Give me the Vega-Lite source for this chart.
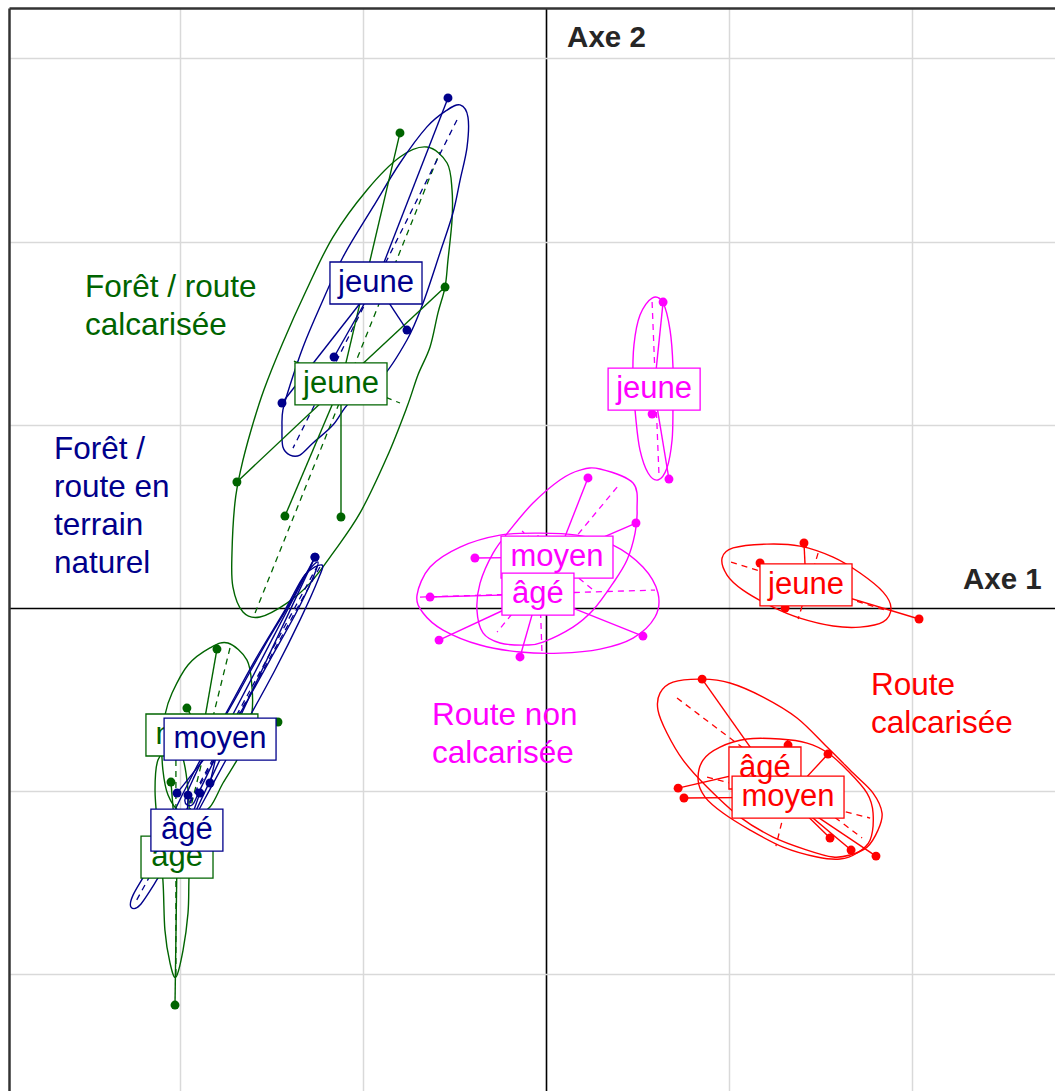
{
"$schema":"https://vega.github.io/schema/vega-lite/v6.json",
"width":1046,"height":1083,
"autosize":{"type":"none"},
"padding":{"left":9,"top":8,"right":0,"bottom":0},
"background":"white",
"config":{"view":{"stroke":null}},
"datasets":{
"ell":[
{"id":"Gj","g":"G","i":0,"x":-0.650,"y":2.516},{"id":"Gj","g":"G","i":1,"x":-0.540,"y":2.429},{"id":"Gj","g":"G","i":2,"x":-0.513,"y":2.282},{"id":"Gj","g":"G","i":3,"x":-0.513,"y":2.118},{"id":"Gj","g":"G","i":4,"x":-0.535,"y":1.900},{"id":"Gj","g":"G","i":5,"x":-0.551,"y":1.752},{"id":"Gj","g":"G","i":6,"x":-0.590,"y":1.610},{"id":"Gj","g":"G","i":7,"x":-0.633,"y":1.425},{"id":"Gj","g":"G","i":8,"x":-0.699,"y":1.272},{"id":"Gj","g":"G","i":9,"x":-0.759,"y":1.097},{"id":"Gj","g":"G","i":10,"x":-0.868,"y":0.824},{"id":"Gj","g":"G","i":11,"x":-1.015,"y":0.519},{"id":"Gj","g":"G","i":12,"x":-1.163,"y":0.300},{"id":"Gj","g":"G","i":13,"x":-1.288,"y":0.136},{"id":"Gj","g":"G","i":14,"x":-1.414,"y":0.027},{"id":"Gj","g":"G","i":15,"x":-1.561,"y":-0.049},{"id":"Gj","g":"G","i":16,"x":-1.654,"y":-0.022},{"id":"Gj","g":"G","i":17,"x":-1.709,"y":0.115},{"id":"Gj","g":"G","i":18,"x":-1.714,"y":0.300},{"id":"Gj","g":"G","i":19,"x":-1.698,"y":0.573},{"id":"Gj","g":"G","i":20,"x":-1.665,"y":0.760},{"id":"Gj","g":"G","i":21,"x":-1.610,"y":0.970},{"id":"Gj","g":"G","i":22,"x":-1.540,"y":1.190},{"id":"Gj","g":"G","i":23,"x":-1.440,"y":1.440},{"id":"Gj","g":"G","i":24,"x":-1.310,"y":1.730},{"id":"Gj","g":"G","i":25,"x":-1.163,"y":2.025},{"id":"Gj","g":"G","i":26,"x":-0.977,"y":2.282},{"id":"Gj","g":"G","i":27,"x":-0.797,"y":2.462},
{"id":"Gm","g":"G","i":0,"x":-1.736,"y":-0.191},{"id":"Gm","g":"G","i":1,"x":-1.632,"y":-0.284},{"id":"Gm","g":"G","i":2,"x":-1.605,"y":-0.431},{"id":"Gm","g":"G","i":3,"x":-1.605,"y":-0.573},{"id":"Gm","g":"G","i":4,"x":-1.638,"y":-0.721},{"id":"Gm","g":"G","i":5,"x":-1.687,"y":-0.830},{"id":"Gm","g":"G","i":6,"x":-1.763,"y":-0.955},{"id":"Gm","g":"G","i":7,"x":-1.834,"y":-1.086},{"id":"Gm","g":"G","i":8,"x":-1.916,"y":-1.130},{"id":"Gm","g":"G","i":9,"x":-1.998,"y":-1.114},{"id":"Gm","g":"G","i":10,"x":-2.063,"y":-1.021},{"id":"Gm","g":"G","i":11,"x":-2.091,"y":-0.884},{"id":"Gm","g":"G","i":12,"x":-2.096,"y":-0.721},{"id":"Gm","g":"G","i":13,"x":-2.080,"y":-0.584},{"id":"Gm","g":"G","i":14,"x":-2.041,"y":-0.464},{"id":"Gm","g":"G","i":15,"x":-1.954,"y":-0.311},{"id":"Gm","g":"G","i":16,"x":-1.834,"y":-0.218},
{"id":"Ga","g":"G","i":0,"x":-2.041,"y":-0.748},{"id":"Ga","g":"G","i":1,"x":-1.987,"y":-0.802},{"id":"Ga","g":"G","i":2,"x":-1.954,"y":-0.993},{"id":"Ga","g":"G","i":3,"x":-1.943,"y":-1.266},{"id":"Ga","g":"G","i":4,"x":-1.949,"y":-1.485},{"id":"Ga","g":"G","i":5,"x":-1.954,"y":-1.665},{"id":"Ga","g":"G","i":6,"x":-1.981,"y":-1.867},{"id":"Ga","g":"G","i":7,"x":-2.020,"y":-2.014},{"id":"Ga","g":"G","i":8,"x":-2.052,"y":-1.938},{"id":"Ga","g":"G","i":9,"x":-2.080,"y":-1.758},{"id":"Ga","g":"G","i":10,"x":-2.091,"y":-1.485},{"id":"Ga","g":"G","i":11,"x":-2.118,"y":-1.212},{"id":"Ga","g":"G","i":12,"x":-2.134,"y":-0.993},{"id":"Ga","g":"G","i":13,"x":-2.118,"y":-0.830},
{"id":"Nj","g":"N","i":0,"x":-0.469,"y":2.746},{"id":"Nj","g":"N","i":1,"x":-0.426,"y":2.680},{"id":"Nj","g":"N","i":2,"x":-0.431,"y":2.516},{"id":"Nj","g":"N","i":3,"x":-0.469,"y":2.336},{"id":"Nj","g":"N","i":4,"x":-0.508,"y":2.156},{"id":"Nj","g":"N","i":5,"x":-0.579,"y":1.938},{"id":"Nj","g":"N","i":6,"x":-0.671,"y":1.665},{"id":"Nj","g":"N","i":7,"x":-0.759,"y":1.463},{"id":"Nj","g":"N","i":8,"x":-0.906,"y":1.245},{"id":"Nj","g":"N","i":9,"x":-1.070,"y":1.124},{"id":"Nj","g":"N","i":10,"x":-1.163,"y":0.999},{"id":"Nj","g":"N","i":11,"x":-1.272,"y":0.901},{"id":"Nj","g":"N","i":12,"x":-1.343,"y":0.835},{"id":"Nj","g":"N","i":13,"x":-1.397,"y":0.835},{"id":"Nj","g":"N","i":14,"x":-1.436,"y":0.879},{"id":"Nj","g":"N","i":15,"x":-1.441,"y":0.988},{"id":"Nj","g":"N","i":16,"x":-1.436,"y":1.081},{"id":"Nj","g":"N","i":17,"x":-1.397,"y":1.217},{"id":"Nj","g":"N","i":18,"x":-1.326,"y":1.425},{"id":"Nj","g":"N","i":19,"x":-1.234,"y":1.643},{"id":"Nj","g":"N","i":20,"x":-1.108,"y":1.916},{"id":"Nj","g":"N","i":21,"x":-0.944,"y":2.189},{"id":"Nj","g":"N","i":22,"x":-0.797,"y":2.429},{"id":"Nj","g":"N","i":23,"x":-0.650,"y":2.626},{"id":"Nj","g":"N","i":24,"x":-0.540,"y":2.718},
{"id":"Nm","g":"N","i":0,"x":-1.245,"y":0.251},{"id":"Nm","g":"N","i":1,"x":-1.277,"y":0.153},{"id":"Nm","g":"N","i":2,"x":-1.370,"y":-0.038},{"id":"Nm","g":"N","i":3,"x":-1.507,"y":-0.284},{"id":"Nm","g":"N","i":4,"x":-1.643,"y":-0.529},{"id":"Nm","g":"N","i":5,"x":-1.769,"y":-0.748},{"id":"Nm","g":"N","i":6,"x":-1.889,"y":-0.993},{"id":"Nm","g":"N","i":7,"x":-1.932,"y":-1.075},{"id":"Nm","g":"N","i":8,"x":-1.971,"y":-1.048},{"id":"Nm","g":"N","i":9,"x":-1.916,"y":-0.912},{"id":"Nm","g":"N","i":10,"x":-1.807,"y":-0.693},{"id":"Nm","g":"N","i":11,"x":-1.670,"y":-0.448},{"id":"Nm","g":"N","i":12,"x":-1.534,"y":-0.202},{"id":"Nm","g":"N","i":13,"x":-1.397,"y":0.027},{"id":"Nm","g":"N","i":14,"x":-1.316,"y":0.180},
{"id":"Na","g":"N","i":0,"x":-1.223,"y":0.235},{"id":"Na","g":"N","i":1,"x":-1.245,"y":0.153},{"id":"Na","g":"N","i":2,"x":-1.343,"y":-0.066},{"id":"Na","g":"N","i":3,"x":-1.479,"y":-0.338},{"id":"Na","g":"N","i":4,"x":-1.643,"y":-0.639},{"id":"Na","g":"N","i":5,"x":-1.807,"y":-0.939},{"id":"Na","g":"N","i":6,"x":-1.971,"y":-1.239},{"id":"Na","g":"N","i":7,"x":-2.107,"y":-1.457},{"id":"Na","g":"N","i":8,"x":-2.216,"y":-1.621},{"id":"Na","g":"N","i":9,"x":-2.265,"y":-1.632},{"id":"Na","g":"N","i":10,"x":-2.254,"y":-1.567},{"id":"Na","g":"N","i":11,"x":-2.162,"y":-1.403},{"id":"Na","g":"N","i":12,"x":-2.052,"y":-1.157},{"id":"Na","g":"N","i":13,"x":-1.916,"y":-0.884},{"id":"Na","g":"N","i":14,"x":-1.752,"y":-0.584},{"id":"Na","g":"N","i":15,"x":-1.588,"y":-0.284},{"id":"Na","g":"N","i":16,"x":-1.425,"y":-0.011},{"id":"Na","g":"N","i":17,"x":-1.316,"y":0.180},
{"id":"Mj","g":"M","i":0,"x":0.579,"y":1.692},{"id":"Mj","g":"M","i":1,"x":0.639,"y":1.665},{"id":"Mj","g":"M","i":2,"x":0.677,"y":1.517},{"id":"Mj","g":"M","i":3,"x":0.693,"y":1.316},{"id":"Mj","g":"M","i":4,"x":0.693,"y":1.097},{"id":"Mj","g":"M","i":5,"x":0.688,"y":0.917},{"id":"Mj","g":"M","i":6,"x":0.660,"y":0.764},{"id":"Mj","g":"M","i":7,"x":0.611,"y":0.699},{"id":"Mj","g":"M","i":8,"x":0.557,"y":0.737},{"id":"Mj","g":"M","i":9,"x":0.513,"y":0.862},{"id":"Mj","g":"M","i":10,"x":0.491,"y":1.026},{"id":"Mj","g":"M","i":11,"x":0.475,"y":1.245},{"id":"Mj","g":"M","i":12,"x":0.480,"y":1.436},{"id":"Mj","g":"M","i":13,"x":0.513,"y":1.599},
{"id":"Mm","g":"M","i":0,"x":0.295,"y":0.759},{"id":"Mm","g":"M","i":1,"x":0.475,"y":0.682},{"id":"Mm","g":"M","i":2,"x":0.497,"y":0.535},{"id":"Mm","g":"M","i":3,"x":0.486,"y":0.409},{"id":"Mm","g":"M","i":4,"x":0.442,"y":0.262},{"id":"Mm","g":"M","i":5,"x":0.366,"y":0.136},{"id":"Mm","g":"M","i":6,"x":0.257,"y":-0.011},{"id":"Mm","g":"M","i":7,"x":0.147,"y":-0.104},{"id":"Mm","g":"M","i":8,"x":-0.016,"y":-0.186},{"id":"Mm","g":"M","i":9,"x":-0.104,"y":-0.202},{"id":"Mm","g":"M","i":10,"x":-0.251,"y":-0.191},{"id":"Mm","g":"M","i":11,"x":-0.344,"y":-0.136},{"id":"Mm","g":"M","i":12,"x":-0.377,"y":-0.011},{"id":"Mm","g":"M","i":13,"x":-0.360,"y":0.136},{"id":"Mm","g":"M","i":14,"x":-0.289,"y":0.300},{"id":"Mm","g":"M","i":15,"x":-0.197,"y":0.426},{"id":"Mm","g":"M","i":16,"x":-0.071,"y":0.573},{"id":"Mm","g":"M","i":17,"x":0.076,"y":0.699},{"id":"Mm","g":"M","i":18,"x":0.186,"y":0.753},
{"id":"Ma","g":"M","i":0,"x":-0.704,"y":0.071},{"id":"Ma","g":"M","i":1,"x":-0.633,"y":0.224},{"id":"Ma","g":"M","i":2,"x":-0.469,"y":0.333},{"id":"Ma","g":"M","i":3,"x":-0.251,"y":0.398},{"id":"Ma","g":"M","i":4,"x":-0.033,"y":0.409},{"id":"Ma","g":"M","i":5,"x":0.169,"y":0.398},{"id":"Ma","g":"M","i":6,"x":0.366,"y":0.344},{"id":"Ma","g":"M","i":7,"x":0.529,"y":0.224},{"id":"Ma","g":"M","i":8,"x":0.611,"y":0.082},{"id":"Ma","g":"M","i":9,"x":0.595,"y":-0.049},{"id":"Ma","g":"M","i":10,"x":0.475,"y":-0.164},{"id":"Ma","g":"M","i":11,"x":0.295,"y":-0.224},{"id":"Ma","g":"M","i":12,"x":0.076,"y":-0.246},{"id":"Ma","g":"M","i":13,"x":-0.142,"y":-0.240},{"id":"Ma","g":"M","i":14,"x":-0.360,"y":-0.202},{"id":"Ma","g":"M","i":15,"x":-0.562,"y":-0.120},{"id":"Ma","g":"M","i":16,"x":-0.671,"y":-0.027},
{"id":"Rj","g":"R","i":0,"x":0.961,"y":0.273},{"id":"Rj","g":"R","i":1,"x":1.021,"y":0.328},{"id":"Rj","g":"R","i":2,"x":1.206,"y":0.349},{"id":"Rj","g":"R","i":3,"x":1.386,"y":0.338},{"id":"Rj","g":"R","i":4,"x":1.567,"y":0.278},{"id":"Rj","g":"R","i":5,"x":1.714,"y":0.191},{"id":"Rj","g":"R","i":6,"x":1.840,"y":0.087},{"id":"Rj","g":"R","i":7,"x":1.883,"y":0.0},{"id":"Rj","g":"R","i":8,"x":1.840,"y":-0.076},{"id":"Rj","g":"R","i":9,"x":1.714,"y":-0.104},{"id":"Rj","g":"R","i":10,"x":1.567,"y":-0.098},{"id":"Rj","g":"R","i":11,"x":1.386,"y":-0.055},{"id":"Rj","g":"R","i":12,"x":1.239,"y":0.005},{"id":"Rj","g":"R","i":13,"x":1.075,"y":0.098},{"id":"Rj","g":"R","i":14,"x":0.988,"y":0.180},
{"id":"Ra","g":"R","i":0,"x":0.622,"y":-0.464},{"id":"Ra","g":"R","i":1,"x":0.693,"y":-0.404},{"id":"Ra","g":"R","i":2,"x":0.852,"y":-0.388},{"id":"Ra","g":"R","i":3,"x":1.004,"y":-0.409},{"id":"Ra","g":"R","i":4,"x":1.185,"y":-0.486},{"id":"Ra","g":"R","i":5,"x":1.370,"y":-0.600},{"id":"Ra","g":"R","i":6,"x":1.534,"y":-0.759},{"id":"Ra","g":"R","i":7,"x":1.676,"y":-0.901},{"id":"Ra","g":"R","i":8,"x":1.785,"y":-1.010},{"id":"Ra","g":"R","i":9,"x":1.834,"y":-1.119},{"id":"Ra","g":"R","i":10,"x":1.812,"y":-1.212},{"id":"Ra","g":"R","i":11,"x":1.752,"y":-1.305},{"id":"Ra","g":"R","i":12,"x":1.659,"y":-1.348},{"id":"Ra","g":"R","i":13,"x":1.567,"y":-1.359},{"id":"Ra","g":"R","i":14,"x":1.425,"y":-1.321},{"id":"Ra","g":"R","i":15,"x":1.239,"y":-1.250},{"id":"Ra","g":"R","i":16,"x":1.059,"y":-1.141},{"id":"Ra","g":"R","i":17,"x":0.879,"y":-0.977},{"id":"Ra","g":"R","i":18,"x":0.748,"y":-0.830},{"id":"Ra","g":"R","i":19,"x":0.660,"y":-0.682},{"id":"Ra","g":"R","i":20,"x":0.611,"y":-0.557},
{"id":"Rm","g":"R","i":0,"x":0.830,"y":-0.939},{"id":"Rm","g":"R","i":1,"x":0.857,"y":-0.830},{"id":"Rm","g":"R","i":2,"x":0.950,"y":-0.759},{"id":"Rm","g":"R","i":3,"x":1.097,"y":-0.715},{"id":"Rm","g":"R","i":4,"x":1.277,"y":-0.715},{"id":"Rm","g":"R","i":5,"x":1.425,"y":-0.737},{"id":"Rm","g":"R","i":6,"x":1.539,"y":-0.791},{"id":"Rm","g":"R","i":7,"x":1.643,"y":-0.884},{"id":"Rm","g":"R","i":8,"x":1.752,"y":-1.010},{"id":"Rm","g":"R","i":9,"x":1.785,"y":-1.119},{"id":"Rm","g":"R","i":10,"x":1.769,"y":-1.266},{"id":"Rm","g":"R","i":11,"x":1.698,"y":-1.337},{"id":"Rm","g":"R","i":12,"x":1.605,"y":-1.370},{"id":"Rm","g":"R","i":13,"x":1.479,"y":-1.359},{"id":"Rm","g":"R","i":14,"x":1.294,"y":-1.305},{"id":"Rm","g":"R","i":15,"x":1.114,"y":-1.212},{"id":"Rm","g":"R","i":16,"x":0.966,"y":-1.119},{"id":"Rm","g":"R","i":17,"x":0.868,"y":-1.032}
],
"ax":[
{"g":"G","x":-1.588,"y":-0.027,"x2":-0.579,"y2":2.489},{"g":"G","x":-1.376,"y":1.348,"x2":-0.797,"y2":1.119},
{"g":"G","x":-1.725,"y":-0.218,"x2":-1.943,"y2":-1.103},
{"g":"G","x":-2.020,"y":-0.830,"x2":-2.020,"y2":-2.003},
{"g":"N","x":-0.486,"y":2.664,"x2":-1.381,"y2":0.873},
{"g":"N","x":-1.245,"y":0.235,"x2":-1.954,"y2":-1.075},
{"g":"N","x":-1.234,"y":0.224,"x2":-2.243,"y2":-1.610},
{"g":"M","x":0.579,"y":1.670,"x2":0.617,"y2":0.715},
{"g":"M","x":0.388,"y":0.660,"x2":-0.267,"y2":-0.131},{"g":"M","x":0.251,"y":0.104,"x2":-0.131,"y2":0.420},
{"g":"M","x":-0.688,"y":0.060,"x2":0.595,"y2":0.098},{"g":"M","x":-0.044,"y":0.398,"x2":-0.022,"y2":-0.246},
{"g":"R","x":1.010,"y":0.251,"x2":1.850,"y2":-0.011},{"g":"R","x":1.485,"y":0.300,"x2":1.376,"y2":-0.060},
{"g":"R","x":0.715,"y":-0.491,"x2":1.725,"y2":-1.255},{"g":"R","x":1.321,"y":-0.721,"x2":1.124,"y2":-1.026},
{"g":"R","x":0.879,"y":-0.923,"x2":1.769,"y2":-1.146},{"g":"R","x":1.386,"y":-0.764,"x2":1.255,"y2":-1.299}
],
"pts":[
{"g":"G","c":"jeune","x":-0.797,"y":2.593,"cx":-1.119,"cy":1.223},{"g":"G","c":"jeune","x":-0.551,"y":1.752,"cx":-1.119,"cy":1.223},{"g":"G","c":"jeune","x":-1.687,"y":0.688,"cx":-1.119,"cy":1.223},{"g":"G","c":"jeune","x":-1.425,"y":0.502,"cx":-1.119,"cy":1.223},{"g":"G","c":"jeune","x":-1.119,"y":0.497,"cx":-1.119,"cy":1.223},
{"g":"G","c":"moyen","x":-1.796,"y":-0.224,"cx":-1.878,"cy":-0.693},{"g":"G","c":"moyen","x":-1.463,"y":-0.622,"cx":-1.878,"cy":-0.693},{"g":"G","c":"moyen","x":-1.960,"y":-0.546,"cx":-1.878,"cy":-0.693},
{"g":"G","c":"âgé","x":-2.025,"y":-2.167,"cx":-2.014,"cy":-1.359},{"g":"G","c":"âgé","x":-2.047,"y":-0.950,"cx":-2.014,"cy":-1.359},
{"g":"N","c":"jeune","x":-0.535,"y":2.784,"cx":-0.928,"cy":1.774},{"g":"N","c":"jeune","x":-0.759,"y":1.517,"cx":-0.928,"cy":1.774},{"g":"N","c":"jeune","x":-1.157,"y":1.370,"cx":-0.928,"cy":1.774},{"g":"N","c":"jeune","x":-1.441,"y":1.119,"cx":-0.928,"cy":1.774},
{"g":"N","c":"moyen","x":-1.261,"y":0.278,"cx":-1.779,"cy":-0.715},{"g":"N","c":"moyen","x":-1.834,"y":-0.955,"cx":-1.779,"cy":-0.715},{"g":"N","c":"moyen","x":-2.014,"y":-1.010,"cx":-1.779,"cy":-0.715},
{"g":"N","c":"âgé","x":-1.261,"y":0.278,"cx":-1.960,"cy":-1.212},{"g":"N","c":"âgé","x":-1.889,"y":-1.010,"cx":-1.960,"cy":-1.212},{"g":"N","c":"âgé","x":-1.954,"y":-1.021,"cx":-1.960,"cy":-1.212},
{"g":"M","c":"jeune","x":0.639,"y":1.670,"cx":0.590,"cy":1.195},{"g":"M","c":"jeune","x":0.579,"y":1.059,"cx":0.590,"cy":1.195},{"g":"M","c":"jeune","x":0.671,"y":0.704,"cx":0.590,"cy":1.195},
{"g":"M","c":"moyen","x":0.229,"y":0.710,"cx":0.060,"cy":0.278},{"g":"M","c":"moyen","x":0.491,"y":0.464,"cx":0.060,"cy":0.278},{"g":"M","c":"moyen","x":-0.388,"y":0.273,"cx":0.060,"cy":0.278},
{"g":"M","c":"âgé","x":-0.633,"y":0.060,"cx":-0.044,"cy":0.076},{"g":"M","c":"âgé","x":-0.584,"y":-0.175,"cx":-0.044,"cy":0.076},{"g":"M","c":"âgé","x":-0.142,"y":-0.267,"cx":-0.044,"cy":0.076},{"g":"M","c":"âgé","x":0.529,"y":-0.153,"cx":-0.044,"cy":0.076},
{"g":"R","c":"jeune","x":1.408,"y":0.355,"cx":1.419,"cy":0.126},{"g":"R","c":"jeune","x":1.168,"y":0.246,"cx":1.419,"cy":0.126},{"g":"R","c":"jeune","x":1.305,"y":0.0,"cx":1.419,"cy":0.126},{"g":"R","c":"jeune","x":2.036,"y":-0.060,"cx":1.419,"cy":0.126},
{"g":"R","c":"âgé","x":0.852,"y":-0.388,"cx":1.195,"cy":-0.873},{"g":"R","c":"âgé","x":0.721,"y":-0.983,"cx":1.195,"cy":-0.873},{"g":"R","c":"âgé","x":1.321,"y":-0.748,"cx":1.195,"cy":-0.873},
{"g":"R","c":"moyen","x":1.539,"y":-0.797,"cx":1.321,"cy":-1.032},{"g":"R","c":"moyen","x":0.753,"y":-1.037,"cx":1.321,"cy":-1.032},{"g":"R","c":"moyen","x":1.550,"y":-1.255,"cx":1.321,"cy":-1.032},{"g":"R","c":"moyen","x":1.665,"y":-1.321,"cx":1.321,"cy":-1.032},{"g":"R","c":"moyen","x":1.801,"y":-1.354,"cx":1.321,"cy":-1.032}
],
"lab":[
{"g":"G","c":"jeune","x":-1.119,"y":1.223},{"g":"G","c":"moyen","x":-1.878,"y":-0.693},{"g":"G","c":"âgé","x":-2.014,"y":-1.359},
{"g":"N","c":"jeune","x":-0.928,"y":1.774},{"g":"N","c":"moyen","x":-1.779,"y":-0.715},{"g":"N","c":"âgé","x":-1.960,"y":-1.212},
{"g":"M","c":"jeune","x":0.590,"y":1.195},{"g":"M","c":"moyen","x":0.060,"y":0.278},{"g":"M","c":"âgé","x":-0.044,"y":0.076},
{"g":"R","c":"jeune","x":1.419,"y":0.126},{"g":"R","c":"âgé","x":1.195,"y":-0.873},{"g":"R","c":"moyen","x":1.321,"y":-1.032}
],
"ann":[
{"g":"G","t":"Forêt / route\ncalcarisée","x":-2.516,"y":1.698},
{"g":"N","t":"Forêt /\nroute en\nterrain\nnaturel","x":-2.686,"y":0.813},
{"g":"M","t":"Route non\ncalcarisée","x":-0.622,"y":-0.639},
{"g":"R","t":"Route\ncalcarisée","x":1.774,"y":-0.475}
],
"axe":[
{"t":"Axe 1","x":2.276,"y":0.153},
{"t":"Axe 2","x":0.115,"y":3.111}
]
},
"encoding":{
"x":{"field":"x","type":"quantitative","scale":{"domain":[-2.931,2.778],"nice":false,"zero":false},
"axis":{"orient":"top","values":[-2,-1,0,1,2],"labels":false,"ticks":false,"title":null,"grid":true,
"gridColor":{"condition":{"test":"datum.value === 0","value":"#000000"},"value":"#d9d9d9"},
"gridWidth":{"condition":{"test":"datum.value === 0","value":1.6},"value":1.5},
"domainColor":"#333333","domainWidth":2.5}},
"y":{"field":"y","type":"quantitative","scale":{"domain":[-2.636,3.275],"nice":false,"zero":false},
"axis":{"orient":"left","values":[-2,-1,0,1,2,3],"labels":false,"ticks":false,"title":null,"grid":true,
"gridColor":{"condition":{"test":"datum.value === 0","value":"#000000"},"value":"#d9d9d9"},
"gridWidth":{"condition":{"test":"datum.value === 0","value":1.6},"value":1.5},
"domainColor":"#333333","domainWidth":2.5}}
},
"layer":[
{"data":{"name":"ell"},"mark":{"type":"line","interpolate":"cardinal-closed","strokeWidth":1.4},
"encoding":{"color":{"field":"g","type":"nominal","scale":{"domain":["G","N","M","R"],"range":["#006400","#00008B","#FF00FF","#FF0000"]},"legend":null},"detail":{"field":"id"},"order":{"field":"i","type":"quantitative"}}},
{"data":{"name":"ax"},"mark":{"type":"rule","strokeDash":[6,5],"strokeWidth":1.3},
"encoding":{"x2":{"field":"x2"},"y2":{"field":"y2"},"color":{"field":"g","type":"nominal","scale":{"domain":["G","N","M","R"],"range":["#006400","#00008B","#FF00FF","#FF0000"]},"legend":null}}},
{"data":{"name":"pts"},"mark":{"type":"rule","strokeWidth":1.4},
"encoding":{"x2":{"field":"cx"},"y2":{"field":"cy"},"color":{"field":"g","type":"nominal","scale":{"domain":["G","N","M","R"],"range":["#006400","#00008B","#FF00FF","#FF0000"]},"legend":null}}},
{"data":{"name":"pts"},"mark":{"type":"circle","size":80,"opacity":1},
"encoding":{"color":{"field":"g","type":"nominal","scale":{"domain":["G","N","M","R"],"range":["#006400","#00008B","#FF00FF","#FF0000"]},"legend":null}}},
{"data":{"name":"lab"},"transform":[{"filter":"datum.g === 'G'"}],"mark":{"type":"point","filled":true,"fill":"white","opacity":1,"size":14400,"strokeWidth":1.3},
"encoding":{"shape":{"field":"c","type":"nominal","scale":{"domain":["jeune","moyen","âgé"],"range":["M-0.767,-0.35L0.767,-0.35L0.767,0.35L-0.767,0.35Z","M-0.933,-0.35L0.933,-0.35L0.933,0.35L-0.933,0.35Z","M-0.6,-0.35L0.6,-0.35L0.6,0.35L-0.6,0.35Z"]},"legend":null},"stroke":{"field":"g","type":"nominal","scale":{"domain":["G","N","M","R"],"range":["#006400","#00008B","#FF00FF","#FF0000"]},"legend":null}}},
{"data":{"name":"lab"},"transform":[{"filter":"datum.g === 'G'"}],"mark":{"type":"text","font":"Liberation Sans","fontSize":31,"baseline":"middle","align":"center"},
"encoding":{"text":{"field":"c"},"color":{"field":"g","type":"nominal","scale":{"domain":["G","N","M","R"],"range":["#006400","#00008B","#FF00FF","#FF0000"]},"legend":null}}},
{"data":{"name":"lab"},"transform":[{"filter":"datum.g === 'N'"}],"mark":{"type":"point","filled":true,"fill":"white","opacity":1,"size":14400,"strokeWidth":1.3},
"encoding":{"shape":{"field":"c","type":"nominal","legend":null},"stroke":{"field":"g","type":"nominal","legend":null}}},
{"data":{"name":"lab"},"transform":[{"filter":"datum.g === 'N'"}],"mark":{"type":"text","font":"Liberation Sans","fontSize":31,"baseline":"middle","align":"center"},
"encoding":{"text":{"field":"c"},"color":{"field":"g","type":"nominal","legend":null}}},
{"data":{"name":"lab"},"transform":[{"filter":"datum.g === 'M'"}],"mark":{"type":"point","filled":true,"fill":"white","opacity":1,"size":14400,"strokeWidth":1.3},
"encoding":{"shape":{"field":"c","type":"nominal","legend":null},"stroke":{"field":"g","type":"nominal","legend":null}}},
{"data":{"name":"lab"},"transform":[{"filter":"datum.g === 'M'"}],"mark":{"type":"text","font":"Liberation Sans","fontSize":31,"baseline":"middle","align":"center"},
"encoding":{"text":{"field":"c"},"color":{"field":"g","type":"nominal","legend":null}}},
{"data":{"name":"lab"},"transform":[{"filter":"datum.g === 'R'"}],"mark":{"type":"point","filled":true,"fill":"white","opacity":1,"size":14400,"strokeWidth":1.3},
"encoding":{"shape":{"field":"c","type":"nominal","legend":null},"stroke":{"field":"g","type":"nominal","legend":null}}},
{"data":{"name":"lab"},"transform":[{"filter":"datum.g === 'R'"}],"mark":{"type":"text","font":"Liberation Sans","fontSize":31,"baseline":"middle","align":"center"},
"encoding":{"text":{"field":"c"},"color":{"field":"g","type":"nominal","legend":null}}},
{"data":{"name":"ann"},"mark":{"type":"text","font":"Liberation Sans","fontSize":31.5,"align":"left","baseline":"alphabetic","lineBreak":"\n","lineHeight":38},
"encoding":{"text":{"field":"t"},"color":{"field":"g","type":"nominal","legend":null}}},
{"data":{"name":"axe"},"mark":{"type":"text","font":"Liberation Sans","fontSize":29.5,"fontWeight":"bold","align":"left","baseline":"middle","color":"#262626"},
"encoding":{"text":{"field":"t"}}}
]
}
